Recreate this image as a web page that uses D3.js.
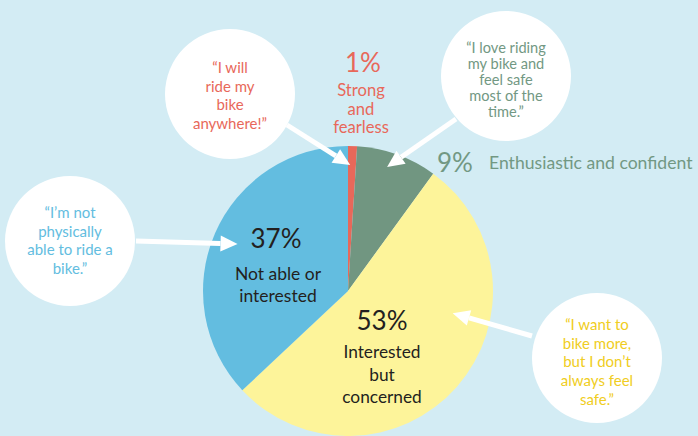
<!DOCTYPE html>
<html>
<head>
<meta charset="utf-8">
<script src="https://cdn.jsdelivr.net/npm/d3@7"></script>
<style>
  body { margin: 0; background: #d3ecf4; }
  svg { display: block; font-family: Lato, "Open Sans", sans-serif; }
</style>
</head>
<body>
<svg width="698" height="436"></svg>
<script>
// four types of cyclists
var categories = ["Strong and fearless", "Enthusiastic and confident", "Interested but concerned", "Not able or interested"];
var values = [1, 9, 53, 37];
var colors = ["#e8685a", "#719681", "#fdf49a", "#63bde0"];
var quoteColors = ["#e8685a", "#729883", "#f0cd22", "#63bde0"];
var quotes = [
    ["\u201cI will", "ride my", "bike", "anywhere!\u201d"],
    ["\u201cI love riding", "my bike and", "feel safe", "most of the", "time.\u201d"],
    ["\u201cI want to", "bike more,", "but I don\u2019t", "always feel", "safe.\u201d"],
    ["\u201cI\u2019m not", "physically", "able to ride a", "bike.\u201d"]
];

var width = 698, height = 436;
var cx = 348, cy = 291, radius = 145;

var svg = d3.select("svg");

svg.append("rect").attr("width", width).attr("height", height).attr("fill", "#d3ecf4");

var pie = d3.pie().sort(null).value(function(d){ return d; });
var arc = d3.arc().innerRadius(0).outerRadius(radius);
var arcs = pie(values);

var g = svg.append("g").attr("transform", "translate(" + cx + "," + cy + ")");

g.selectAll(".slice")
    .data(arcs)
    .enter().append("path")
    .attr("class", "slice")
    .attr("d", arc)
    .attr("fill", function(d, i){ return colors[i]; });

// bubble layout: circle centre, line spacing, font size, arrow start and arrow tip (polar, from pie centre)
var bubbles = [
    {x: 230, y: 94, r: 65, lines: 18.5, size: 15, first: 73, from: [287, 125], tip: [1, 126]},
    {x: 506, y: 76, r: 65, lines: 16, size: 14.6, first: 53, from: [456, 119], tip: [17.5, 130]},
    {x: 597, y: 358, r: 65, lines: 18.7, size: 15, first: 330, from: [532, 336], tip: [102, 107]},
    {x: 70, y: 241, r: 65, lines: 18.5, size: 15, first: 218, from: [136, 241], tip: [293, 120]}
];

var bub = svg.selectAll(".bubble")
    .data(bubbles)
    .enter().append("g")
    .attr("class", "bubble");

bub.append("circle")
    .attr("cx", function(d){ return d.x; })
    .attr("cy", function(d){ return d.y; })
    .attr("r", function(d){ return d.r; })
    .attr("fill", "#fff");

bub.each(function(d, i) {
    var t = d3.select(this).append("text")
        .attr("text-anchor", "middle")
        .attr("fill", quoteColors[i])
        .attr("font-size", d.size);
    quotes[i].forEach(function(line, j) {
        t.append("tspan").attr("x", d.x).attr("y", d.first + j * d.lines).text(line);
    });
});

// arrows
bub.each(function(d) {
    var a = d.tip[0] * Math.PI / 180;
    var tx = cx + d.tip[1] * Math.sin(a), ty = cy - d.tip[1] * Math.cos(a);
    var fx = d.from[0], fy = d.from[1];
    var ang = Math.atan2(ty - fy, tx - fx);
    var headLen = 17, headW = 8;
    var bx = tx - headLen * Math.cos(ang), by = ty - headLen * Math.sin(ang);
    var sel = d3.select(this);
    sel.append("line")
        .attr("x1", fx).attr("y1", fy).attr("x2", bx).attr("y2", by)
        .attr("stroke", "#fff").attr("stroke-width", 5);
    var px = -Math.sin(ang), py = Math.cos(ang);
    sel.append("path")
        .attr("d", "M" + tx + "," + ty +
            "L" + (bx + px * headW) + "," + (by + py * headW) +
            "L" + (bx - px * headW) + "," + (by - py * headW) + "Z")
        .attr("fill", "#fff");
});

// slice labels
var labels = [
    {pct: [363, 72], desc: [361, 96], lines: ["Strong", "and", "fearless"], step: 18.7, color: colors[0], pctSize: 26, descSize: 16.6, anchor: "middle"},
    {pct: [437, 172], desc: [489, 169], lines: ["Enthusiastic and confident"], step: 0, color: "#729883", pctSize: 26, descSize: 17.6, anchor: "start"},
    {pct: [382, 330], desc: [382, 358], lines: ["Interested", "but", "concerned"], step: 22.5, color: "#231f20", pctSize: 26, descSize: 17.3, anchor: "middle"},
    {pct: [276, 248], desc: [278, 280], lines: ["Not able or", "interested"], step: 22, color: "#231f20", pctSize: 26, descSize: 17.5, anchor: "middle"}
];

labels.forEach(function(l, i) {
    svg.append("text")
        .attr("x", l.pct[0]).attr("y", l.pct[1])
        .attr("text-anchor", l.anchor)
        .attr("fill", l.color)
        .attr("font-size", l.pctSize)
        .text(values[i] + "%");
    var t = svg.append("text")
        .attr("text-anchor", l.anchor)
        .attr("fill", l.color)
        .attr("font-size", l.descSize);
    l.lines.forEach(function(line, j) {
        t.append("tspan").attr("x", l.desc[0]).attr("y", l.desc[1] + j * l.step).text(line);
    });
});
</script>
</body>
</html>
